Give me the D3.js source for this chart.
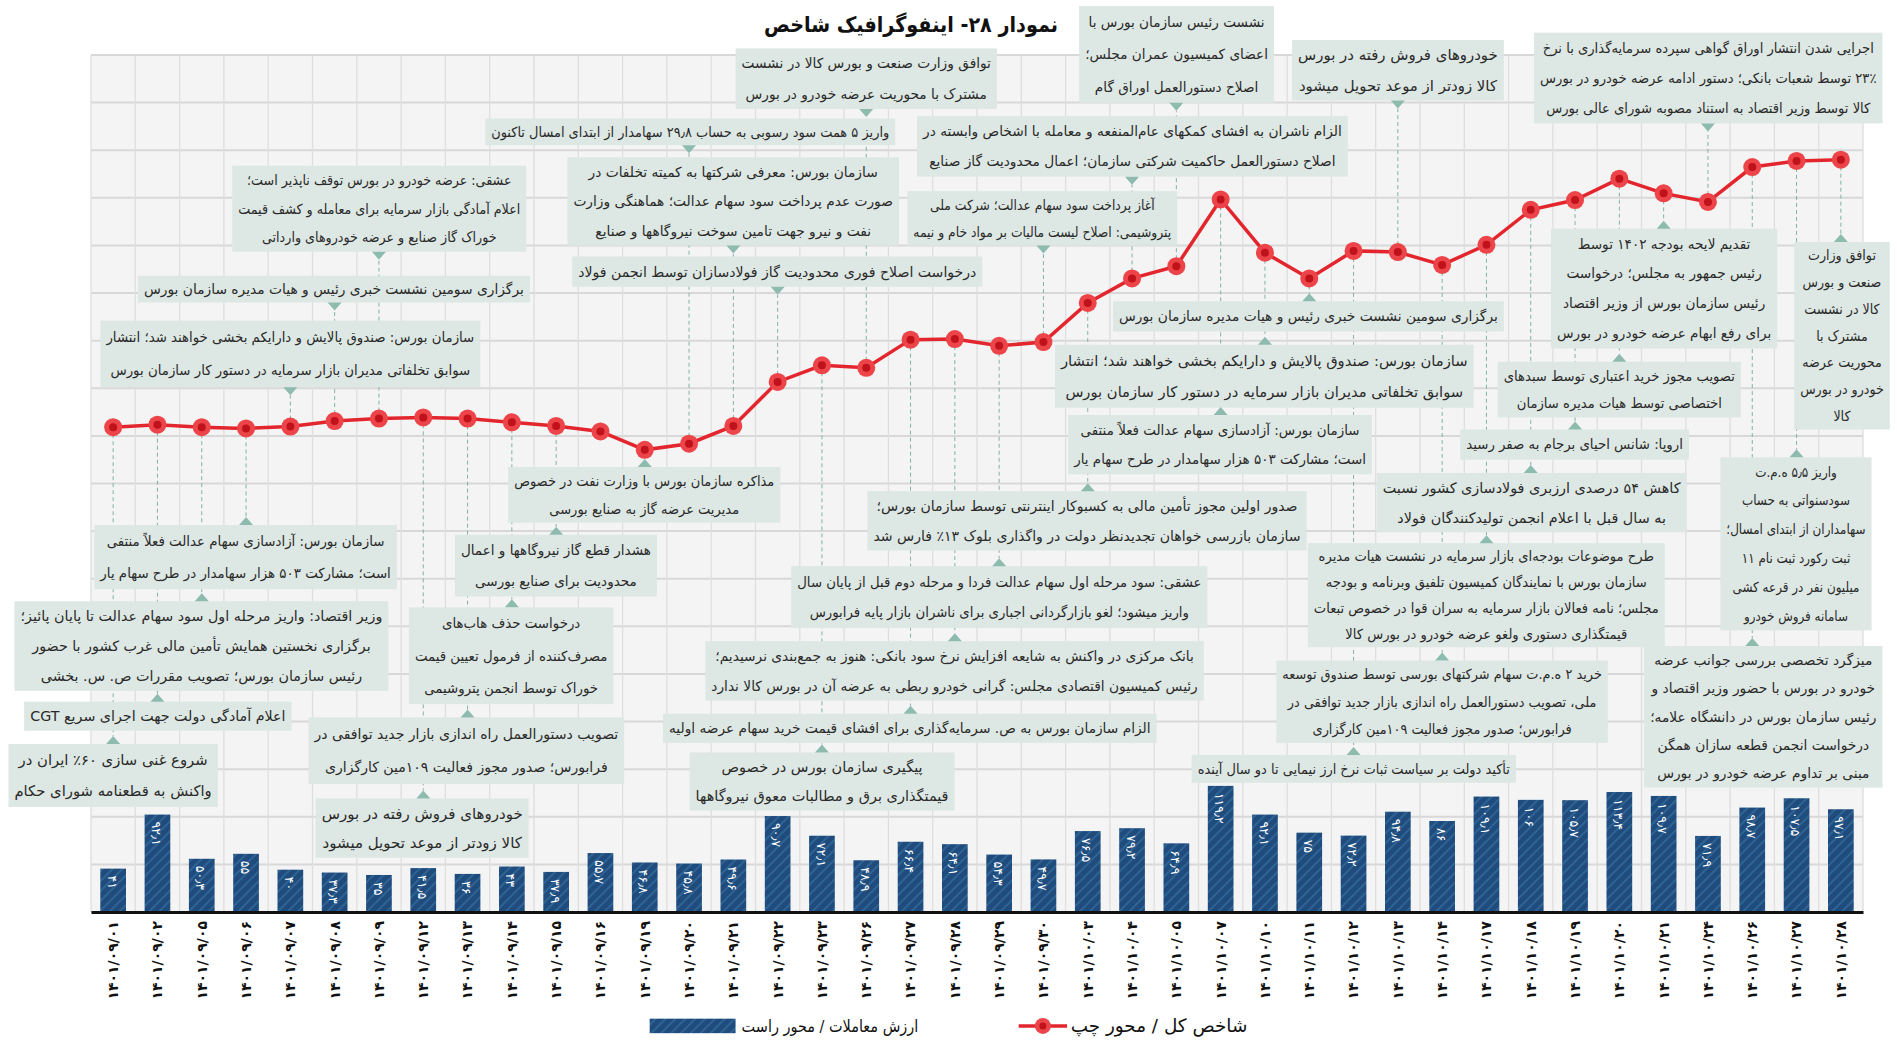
<!DOCTYPE html>
<html>
<head>
<meta charset="utf-8">
<script src="https://cdn.jsdelivr.net/npm/d3@7"></script>
<style>
body { margin: 0; background: #fff; }
text { font-family: "DejaVu Sans", sans-serif; }
</style>
</head>
<body>
<div id="chart"></div>
<script>
// dates of the trading days (x axis)
const dates = ["1401/09/01","1401/09/02","1401/09/05","1401/09/06","1401/09/07","1401/09/08","1401/09/09",
  "1401/09/12","1401/09/13","1401/09/14","1401/09/15","1401/09/16","1401/09/19","1401/09/20","1401/09/21",
  "1401/09/22","1401/09/23","1401/09/26","1401/09/27","1401/09/28","1401/09/29","1401/09/30","1401/10/03",
  "1401/10/04","1401/10/05","1401/10/07","1401/10/10","1401/10/11","1401/10/12","1401/10/13","1401/10/14",
  "1401/10/17","1401/10/18","1401/10/19","1401/10/20","1401/10/21","1401/10/24","1401/10/26","1401/10/27","1401/10/28"];

// ارزش معاملات (right axis)
const tradeValue = [41, 92.1, 50.3, 55, 40, 37.3, 35, 41.5, 36, 43, 37.9, 55.7, 46.8, 45.8, 49.6, 90.7, 72.1, 48.9,
  66.4, 64.1, 54.3, 49.7, 76.5, 79.2, 64.9, 119.2, 92.1, 75, 72.2, 94.8, 86, 109.1, 106, 105.7, 113.4, 109.7, 71.9,
  98.7, 107.5, 97.1];

// شاخص کل (left axis, estimated)
const indexValue = [1392000, 1396000, 1392000, 1390000, 1393000, 1402000, 1406000, 1408000, 1406000, 1400000,
  1394000, 1385000, 1355000, 1365000, 1394000, 1466000, 1493000, 1489000, 1535000, 1536000, 1525000, 1531000,
  1595000, 1635000, 1655000, 1764000, 1677000, 1635000, 1680000, 1678000, 1657000, 1690000, 1747000, 1763000,
  1798000, 1774000, 1760000, 1817000, 1827000, 1829000];

// event notes: index of the day they point to + text lines
const notes = [
  {at: 6, lines: ["عشقی: عرضه خودرو در بورس توقف ناپذیر است؛", "اعلام آمادگی بازار سرمایه برای معامله و کشف قیمت", "خوراک گاز صنایع و عرضه خودروهای وارداتی"]},
  {at: 5, lines: ["برگزاری سومین نشست خبری رئیس و هیات مدیره سازمان بورس"]},
  {at: 4, lines: ["سازمان بورس: صندوق پالایش و دارایکم بخشی خواهند شد؛ انتشار", "سوابق تخلفاتی مدیران بازار سرمایه در دستور کار سازمان بورس"]},
  {at: 17, lines: ["توافق وزارت صنعت و بورس کالا در نشست", "مشترک با محوریت عرضه خودرو در بورس"]},
  {at: 13, lines: ["واریز ۵ همت سود رسوبی به حساب ۲۹٫۸ سهامدار از ابتدای امسال تاکنون"]},
  {at: 14, lines: ["سازمان بورس: معرفی شرکتها به کمیته تخلفات در", "صورت عدم پرداخت سود سهام عدالت؛ هماهنگی وزارت", "نفت و نیرو جهت تامین سوخت نیروگاهها و صنایع"]},
  {at: 15, lines: ["درخواست اصلاح فوری محدودیت گاز فولادسازان توسط انجمن فولاد"]},
  {at: 24, lines: ["نشست رئیس سازمان بورس با", "اعضای کمیسیون عمران مجلس؛", "اصلاح دستورالعمل اوراق گام"]},
  {at: 29, lines: ["خودروهای فروش رفته در بورس", "کالا زودتر از موعد تحویل میشود"]},
  {at: 36, lines: ["اجرایی شدن انتشار اوراق گواهی سپرده سرمایه‌گذاری با نرخ", "۲۳٪ توسط شعبات بانکی؛ دستور ادامه عرضه خودرو در بورس", "کالا توسط وزیر اقتصاد به استناد مصوبه شورای عالی بورس"]},
  {at: 23, lines: ["الزام ناشران به افشای کمکهای عام‌المنفعه و معامله با اشخاص وابسته در", "اصلاح دستورالعمل حاکمیت شرکتی سازمان؛ اعمال محدودیت گاز صنایع"]},
  {at: 21, lines: ["آغاز پرداخت سود سهام عدالت؛ شرکت ملی", "پتروشیمی: اصلاح لیست مالیات بر مواد خام و نیمه"]},
  {at: 35, lines: ["تقدیم لایحه بودجه ۱۴۰۲ توسط", "رئیس جمهور به مجلس؛ درخواست", "رئیس سازمان بورس از وزیر اقتصاد", "برای رفع ابهام عرضه خودرو در بورس"]},
  {at: 39, lines: ["توافق وزارت", "صنعت و بورس", "کالا در نشست", "مشترک با", "محوریت عرضه", "خودرو در بورس", "کالا"]},
  {at: 27, lines: ["برگزاری سومین نشست خبری رئیس و هیات مدیره سازمان بورس"]},
  {at: 26, lines: ["سازمان بورس: صندوق پالایش و دارایکم بخشی خواهند شد؛ انتشار", "سوابق تخلفاتی مدیران بازار سرمایه در دستور کار سازمان بورس"]},
  {at: 34, lines: ["تصویب مجوز خرید اعتباری توسط سبدهای", "اختصاصی توسط هیات مدیره سازمان"]},
  {at: 25, lines: ["سازمان بورس: آزادسازی سهام عدالت فعلاً منتفی", "است؛ مشارکت ۵۰۳ هزار سهامدار در طرح سهام یار"]},
  {at: 33, lines: ["اروپا: شانس احیای برجام به صفر رسید"]},
  {at: 32, lines: ["کاهش ۵۴ درصدی ارزبری فولادسازی کشور نسبت", "به سال قبل با اعلام انجمن تولیدکنندگان فولاد"]},
  {at: 31, lines: ["طرح موضوعات بودجه‌ای بازار سرمایه در نشست هیات مدیره", "سازمان بورس با نمایندگان کمیسیون تلفیق وبرنامه و بودجه", "مجلس؛ نامه فعالان بازار سرمایه به سران قوا در خصوص تبعات", "قیمتگذاری دستوری ولغو عرضه خودرو در بورس کالا"]},
  {at: 30, lines: ["خرید ۲ ه.م.ت سهام شرکتهای بورسی توسط صندوق توسعه", "ملی، تصویب دستورالعمل راه اندازی بازار جدید توافقی در", "فرابورس؛ صدور مجوز فعالیت ۱۰۹مین کارگزاری"]},
  {at: 28, lines: ["تأکید دولت بر سیاست ثبات نرخ ارز نیمایی تا دو سال آینده"]},
  {at: 38, lines: ["واریز ۵٫۵ ه.م.ت", "سودسنواتی به حساب", "سهامداران از ابتدای امسال؛", "ثبت رکورد ثبت نام ۱۱", "میلیون نفر در قرعه کشی", "سامانه فروش خودرو"]},
  {at: 37, lines: ["میزگرد تخصصی بررسی جوانب عرضه", "خودرو در بورس با حضور وزیر اقتصاد و", "رئیس سازمان بورس در دانشگاه علامه؛", "درخواست انجمن قطعه سازان همگن", "مبنی بر تداوم عرضه خودرو در بورس"]},
  {at: 3, lines: ["سازمان بورس: آزادسازی سهام عدالت فعلاً منتفی", "است؛ مشارکت ۵۰۳ هزار سهامدار در طرح سهام یار"]},
  {at: 2, lines: ["وزیر اقتصاد: واریز مرحله اول سود سهام عدالت تا پایان پائیز؛", "برگزاری نخستین همایش تأمین مالی غرب کشور با حضور", "رئیس سازمان بورس؛ تصویب مقررات ص. س. بخشی"]},
  {at: 1, lines: ["اعلام آمادگی دولت جهت اجرای سریع CGT"]},
  {at: 0, lines: ["شروع غنی سازی ۶۰٪ ایران در", "واکنش به قطعنامه شورای حکام"]},
  {at: 12, lines: ["مذاکره سازمان بورس با وزارت نفت در خصوص", "مدیریت عرضه گاز به صنایع بورسی"]},
  {at: 10, lines: ["هشدار قطع گاز نیروگاهها و اعمال", "محدودیت برای صنایع بورسی"]},
  {at: 9, lines: ["درخواست حذف هاب‌های", "مصرف‌کننده از فرمول تعیین قیمت", "خوراک توسط انجمن پتروشیمی"]},
  {at: 8, lines: ["تصویب دستورالعمل راه اندازی بازار جدید توافقی در", "فرابورس؛ صدور مجوز فعالیت ۱۰۹مین کارگزاری"]},
  {at: 7, lines: ["خودروهای فروش رفته در بورس", "کالا زودتر از موعد تحویل میشود"]},
  {at: 22, lines: ["صدور اولین مجوز تأمین مالی به کسبوکار اینترنتی توسط سازمان بورس؛", "سازمان بازرسی خواهان تجدیدنظر دولت در واگذاری بلوک ۱۳٪ فارس شد"]},
  {at: 20, lines: ["عشقی: سود مرحله اول سهام عدالت فردا و مرحله دوم قبل از پایان سال", "واریز میشود؛ لغو بازارگردانی اجباری برای ناشران بازار پایه فرابورس"]},
  {at: 19, lines: ["بانک مرکزی در واکنش به شایعه افزایش نرخ سود بانکی: هنوز به جمع‌بندی نرسیدیم؛", "رئیس کمیسیون اقتصادی مجلس: گرانی خودرو ربطی به عرضه آن در بورس کالا ندارد"]},
  {at: 18, lines: ["الزام سازمان بورس به ص. سرمایه‌گذاری برای افشای قیمت خرید سهام عرضه اولیه"]},
  {at: 16, lines: ["پیگیری سازمان بورس در خصوص", "قیمتگذاری برق و مطالبات معوق نیروگاهها"]}
];

// box placement for each note [x0, y0, x1, y1], measured on a 1568px wide copy
const K = 1897 / 1568;
const noteBox = [
  [192,137,435,208],[114,228,438,250],[83,265,397,320],[608,40,824,90],[401,98,740,120],
  [469,130,743,203],[473,212,812,237],[892,5,1053,85],[1068,33,1243,83],[1268,27,1556,102],
  [758,96,1114,146],[750,158,973,203],[1282,189,1469,288],[1483,200,1562,355],[920,249,1243,274],
  [872,285,1218,337],[1238,299,1439,345],[883,343,1134,392],[1207,355,1396,380],[1138,391,1394,440],
  [1081,449,1376,535],[1055,546,1329,614],[985,624,1253,647],[1422,378,1547,521],[1359,534,1556,651],
  [78,434,328,487],[12,497,321,571],[20,580,241,604],[7,615,180,667],[420,386,645,432],
  [376,442,543,493],[338,502,507,582],[255,593,516,648],[261,660,437,709],[717,406,1080,455],
  [654,468,998,519],[583,530,995,579],[548,590,956,614],[570,622,789,670]
];

const W = 1897, H = 1043;
const plot = {left: 91, right: 1863, top: 55, bottom: 912};

const fa = s => String(s).replace(/\d/g, d => "۰۱۲۳۴۵۶۷۸۹"[d]).replace(".", "٫");

const svg = d3.select("#chart").append("svg")
  .attr("width", W).attr("height", H);

const defs = svg.append("defs");
const pat = defs.append("pattern").attr("id", "hatch")
  .attr("patternUnits", "userSpaceOnUse").attr("width", 7).attr("height", 7)
  .attr("patternTransform", "rotate(45)");
pat.append("rect").attr("width", 7).attr("height", 7).attr("fill", "#1f4c7c");
pat.append("rect").attr("width", 2).attr("height", 7).attr("fill", "#2e6396");

var x = d3.scaleBand()
  .domain(dates)
  .range([plot.left, plot.right])
  .paddingInner(0.42)
  .paddingOuter(0.21);
const cx = d => x(d) + x.bandwidth() / 2;

var yL = d3.scaleLinear().domain([600000, 2000000]).range([plot.bottom, plot.top]);
var yR = d3.scaleLinear().domain([0, 810]).range([plot.bottom, plot.top]);

// fit centred lines into a width: shrink the font a little (never past the page edge), then squeeze
function fitLines(sel, width, size, centre) {
  sel.style("font-size", size + "px");
  let lens = sel.nodes().map(el => el.getComputedTextLength());
  const widest = d3.max(lens);
  const room = 2 * (Math.min(centre, W - centre) - 4);
  let s = Math.max(0.9, width / widest);
  s = Math.min(1, s, room / widest);
  if (s < 1) {
    sel.style("font-size", (size * s) + "px");
    lens = sel.nodes().map(el => el.getComputedTextLength());
  }
  const f = Math.min(1.15, width / d3.max(lens));
  sel.attr("textLength", (d, j) => lens[j] * f).attr("lengthAdjust", "spacingAndGlyphs");
}

// plot background + grid
svg.append("rect")
  .attr("x", plot.left).attr("y", plot.top)
  .attr("width", plot.right - plot.left).attr("height", plot.bottom - plot.top)
  .attr("fill", "#f4f4f4");

svg.append("g").selectAll("line")
  .data(d3.range(0, 811, 45))
  .join("line")
    .attr("x1", plot.left).attr("x2", plot.right)
    .attr("y1", d => yR(d)).attr("y2", d => yR(d))
    .attr("stroke", "#d8d8d8").attr("stroke-width", 2);

const step = x.step();
svg.append("g").selectAll("line")
  .data(d3.range(dates.length + 1))
  .join("line")
    .attr("x1", i => plot.left + i * step).attr("x2", i => plot.left + i * step)
    .attr("y1", plot.top).attr("y2", plot.bottom)
    .attr("stroke", "#dedede").attr("stroke-width", 1.3);

// bars
svg.append("g").selectAll("rect")
  .data(tradeValue)
  .join("rect")
    .attr("x", (d, i) => x(dates[i]))
    .attr("y", d => yR(d))
    .attr("width", x.bandwidth())
    .attr("height", d => plot.bottom - yR(d))
    .attr("fill", "url(#hatch)");

svg.append("g").selectAll("text")
  .data(tradeValue)
  .join("text")
    .attr("transform", (d, i) => `translate(${cx(dates[i]) - 1},${yR(d) + 7}) rotate(90)`)
    .attr("dy", "0.35em")
    .attr("fill", "#fff")
    .style("font-size", "12.5px")
    .text(d => fa(d));

// baseline + x axis
svg.append("g")
  .attr("transform", `translate(0,${plot.bottom})`)
  .call(d3.axisBottom(x).tickSize(0).tickFormat(fa))
  .call(g => g.select(".domain").attr("stroke", "#111").attr("stroke-width", 3))
  .selectAll("text")
    .attr("transform", "rotate(-90)")
    .attr("x", -9).attr("y", 0).attr("dy", "0.35em")
    .style("text-anchor", "end")
    .style("font-size", "14px")
    .style("font-weight", "bold")
    .style("font-family", "DejaVu Sans")
    .attr("fill", "#111");

// connectors from points to notes
const noteG = svg.append("g");
const tri = 8;
notes.forEach((n, k) => {
  const b = noteBox[k].map(v => v * K);
  const px = cx(dates[n.at]), py = yL(indexValue[n.at]);
  const below = b[1] > py;
  const baseY = below ? b[1] : b[3];
  const tipY = below ? baseY - tri : baseY + tri;
  noteG.append("line")
    .attr("x1", px).attr("x2", px).attr("y1", py).attr("y2", tipY)
    .attr("stroke", "#80b3a6").attr("stroke-width", 1).attr("stroke-dasharray", "4,3");
  n.geo = {b, px, baseY, tipY};
});

notes.forEach(n => {
  const {b, px, baseY, tipY} = n.geo;
  const w = b[2] - b[0], h = b[3] - b[1];
  const g = noteG.append("g");
  g.append("rect")
    .attr("x", b[0]).attr("y", b[1]).attr("width", w).attr("height", h)
    .attr("fill", "#dde7e3");
  g.append("path")
    .attr("d", `M${px - 7},${baseY}L${px + 7},${baseY}L${px},${tipY}Z`)
    .attr("fill", "#8dbbae");
  const t = g.selectAll("text")
    .data(n.lines)
    .join("text")
      .attr("x", b[0] + w / 2)
      .attr("y", (d, j) => b[1] + h * (j + 0.5) / n.lines.length)
      .attr("dy", "0.35em")
      .attr("direction", "rtl")
      .attr("text-anchor", "middle")
      .attr("fill", "#2a2a2a")
      .text(d => d);
  fitLines(t, w - 12, 15.5, b[0] + w / 2);
});

// index line
svg.append("path")
  .datum(indexValue)
  .attr("fill", "none")
  .attr("stroke", "#e3262d")
  .attr("stroke-width", 3.5)
  .attr("d", d3.line().x((d, i) => cx(dates[i])).y(d => yL(d)));

const dots = svg.append("g").selectAll("g")
  .data(indexValue)
  .join("g")
    .attr("transform", (d, i) => `translate(${cx(dates[i])},${yL(d)})`);
dots.append("circle").attr("r", 9).attr("fill", "#ec4448");
dots.append("circle").attr("r", 4).attr("fill", "#c0121b");

// legend
const lg = svg.append("g");
lg.append("line")
  .attr("x1", 842 * K).attr("x2", 882 * K).attr("y1", 848 * K).attr("y2", 848 * K)
  .attr("stroke", "#e3262d").attr("stroke-width", 3.5);
lg.append("circle").attr("cx", 862 * K).attr("cy", 848 * K).attr("r", 8).attr("fill", "#ec4448");
lg.append("circle").attr("cx", 862 * K).attr("cy", 848 * K).attr("r", 3.5).attr("fill", "#c0121b");
const lt1 = lg.append("text")
  .attr("x", 958 * K).attr("y", 848 * K).attr("dy", "0.35em")
  .attr("direction", "rtl").attr("text-anchor", "middle")
  .attr("fill", "#111")
  .text("شاخص کل / محور چپ");
fitLines(lt1, 146 * K, 18.5, 958 * K);
lg.append("rect")
  .attr("x", 537 * K).attr("y", 842 * K).attr("width", 71 * K).attr("height", 12 * K)
  .attr("fill", "url(#hatch)");
const lt2 = lg.append("text")
  .attr("x", 686 * K).attr("y", 848 * K).attr("dy", "0.35em")
  .attr("direction", "rtl").attr("text-anchor", "middle")
  .attr("fill", "#111")
  .text("ارزش معاملات / محور راست");
fitLines(lt2, 146 * K, 18.5, 686 * K);

// title
const title = svg.append("text")
  .attr("x", 753 * K).attr("y", 20 * K).attr("dy", "0.35em")
  .attr("direction", "rtl").attr("text-anchor", "middle")
  .style("font-weight", "bold").attr("fill", "#111")
  .text("نمودار ۲۸- اینفوگرافیک شاخص");
fitLines(title, 243 * K, 24, 753 * K);
</script>
</body>
</html>
